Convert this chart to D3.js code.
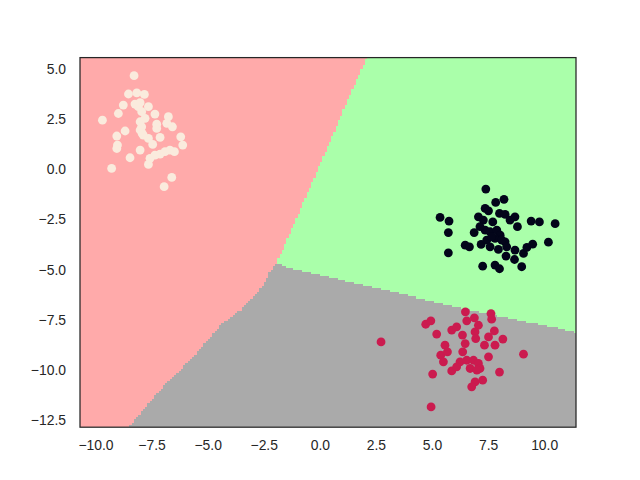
<!DOCTYPE html>
<html><head><meta charset="utf-8">
<script src="https://cdn.jsdelivr.net/npm/d3@7"></script>
<style>body{margin:0;background:#fff} svg{display:block}</style>
</head><body>
<svg id="chart" width="640" height="480"></svg>
<script>
// ---- data ----
const regionColors = ["#FFAAAA", "#AAFFAA", "#AAAAAA"];
const pointColors = ["#FAEBDD", "#03051A", "#CB1B4F"];
const xTicks = [-10, -7.5, -5, -2.5, 0, 2.5, 5, 7.5, 10];
const yTicks = [5, 2.5, 0, -2.5, -5, -7.5, -10, -12.5];

const cluster0 = [[-8.28,4.62],[-8.53,3.71],[-8.16,3.77],[-7.82,3.69],[-8.76,3.16],[-8.24,3.21],[-8.01,3.28],[-7.64,3.08],[-8.98,2.74],[-7.94,2.83],[-7.35,2.71],[-9.69,2.41],[-8.01,2.33],[-7.79,2.50],[-7.27,2.21],[-6.75,2.58],[-6.82,2.25],[-6.57,2.08],[-8.68,1.87],[-8.01,1.92],[-7.87,1.67],[-7.27,2.00],[-7.12,1.55],[-9.05,1.62],[-9.02,1.17],[-9.05,1.00],[-7.64,1.50],[-7.45,1.20],[-6.20,1.58],[-6.11,1.17],[-8.01,0.92],[-8.46,0.54],[-7.57,0.51],[-7.64,0.21],[-7.35,0.67],[-7.12,0.72],[-6.90,0.84],[-6.68,0.92],[-6.48,0.84],[-9.28,0.01],[-6.60,-0.44],[-6.94,-0.90],[-7.94,2.08],[-8.09,3.08],[-7.92,1.75]];
const cluster1 = [[7.40,-1.02],[7.84,-1.68],[8.21,-1.53],[7.37,-1.98],[7.52,-2.10],[7.07,-2.40],[8.01,-2.23],[8.26,-2.28],[8.70,-2.40],[8.48,-2.56],[5.36,-2.43],[5.76,-2.61],[5.73,-3.18],[6.88,-3.18],[7.29,-2.56],[7.71,-2.65],[7.37,-3.06],[7.59,-3.14],[7.89,-3.06],[8.04,-3.31],[8.81,-2.89],[9.42,-2.61],[9.79,-2.65],[10.49,-2.74],[6.48,-3.81],[6.67,-3.89],[7.19,-3.77],[7.44,-3.56],[7.81,-3.47],[8.26,-3.64],[8.33,-3.89],[7.96,-4.02],[8.70,-4.05],[8.30,-4.35],[9.08,-4.22],[9.23,-3.92],[9.49,-3.76],[10.19,-3.66],[5.73,-4.19],[8.68,-4.52],[7.26,-4.85],[7.81,-4.80],[8.01,-4.98],[9.00,-4.88],[7.14,-2.89],[7.66,-3.39],[8.11,-3.56],[7.59,-3.89]];
const cluster2 = [[2.73,-8.62],[4.72,-7.74],[4.95,-7.57],[5.21,-8.23],[6.49,-7.12],[6.55,-7.57],[6.89,-7.42],[7.07,-7.79],[7.63,-7.21],[7.66,-7.49],[5.88,-8.03],[6.10,-7.87],[6.36,-8.28],[6.92,-8.12],[6.95,-8.45],[7.52,-8.37],[7.78,-8.07],[8.16,-8.48],[5.58,-8.78],[6.48,-8.70],[7.34,-8.78],[7.81,-8.78],[5.39,-9.28],[5.51,-9.61],[6.37,-9.11],[6.25,-9.61],[6.55,-9.53],[6.85,-9.53],[7.07,-9.69],[7.52,-9.36],[7.14,-9.94],[6.70,-9.94],[5.88,-10.06],[9.08,-9.23],[5.03,-10.22],[8.01,-10.12],[6.92,-10.61],[7.26,-10.52],[6.77,-10.85],[4.96,-11.85],[6.10,-9.86],[7.00,-10.02],[5.69,-9.11]];

// decision boundaries (data units)
const boundaryRedGreen = [[2.09,5.52],[0.28,0.92],[-1.65,-4.05],[-1.93,-4.72]];
const boundaryRedGray = [[-1.93,-4.72],[-2.25,-5.21],[-2.44,-5.71],[-2.81,-6.21],[-3.26,-6.70],[-3.56,-7.04],[-4.37,-7.70],[-5.64,-9.36],[-7.12,-11.01],[-7.87,-12.01],[-8.53,-12.86]];
const boundaryGreenGray = [[-1.93,-4.72],[-1.42,-4.95],[-0.58,-5.17],[0.01,-5.30],[1.50,-5.71],[4.47,-6.45],[7.44,-7.20],[10.41,-7.87],[11.43,-8.13]];

const xDomain = [-10.69, 11.42];
const yDomain = [-12.86, 5.52];
const meshStep = 0.1;

// ---- layout ----
const W = 640, H = 480;
const margin = {left: 80, right: 64, top: 57.6, bottom: 52.8};
const svg = d3.select("#chart");
const x = d3.scaleLinear().domain(xDomain).range([margin.left, W - margin.right]);
const y = d3.scaleLinear().domain(yDomain).range([H - margin.bottom, margin.top]);

svg.append("defs").append("clipPath").attr("id", "clip")
  .append("rect").attr("x", margin.left).attr("y", margin.top)
  .attr("width", W - margin.left - margin.right).attr("height", H - margin.top - margin.bottom);

// classifier from boundaries
const J = boundaryRedGreen[boundaryRedGreen.length - 1];
const xRG = d3.scaleLinear().domain(boundaryRedGreen.map(d => d[1])).range(boundaryRedGreen.map(d => d[0]));
const xRGr = d3.scaleLinear().domain(boundaryRedGray.map(d => d[1])).range(boundaryRedGray.map(d => d[0]));
const yGG = d3.scaleLinear().domain(boundaryGreenGray.map(d => d[0])).range(boundaryGreenGray.map(d => d[1]));
function classify(px, py) {
  if (py >= J[1]) return px < xRG(py) ? 0 : 1;
  if (px < xRGr(py)) return 0;
  if (px >= J[0] && py > yGG(px)) return 1;
  return 2;
}

// mesh (runs per row)
const runs = [];
const nx = Math.ceil((xDomain[1] - xDomain[0]) / meshStep);
const ny = Math.ceil((yDomain[1] - yDomain[0]) / meshStep);
for (let j = 0; j < ny; j++) {
  const y0 = yDomain[0] + j * meshStep;
  let start = 0, cls = classify(xDomain[0] + 0.5 * meshStep, y0 + 0.5 * meshStep);
  for (let i = 1; i <= nx; i++) {
    const c = i < nx ? classify(xDomain[0] + (i + 0.5) * meshStep, y0 + 0.5 * meshStep) : -1;
    if (c !== cls) {
      runs.push({x0: xDomain[0] + start * meshStep, x1: xDomain[0] + i * meshStep, y0: y0, y1: y0 + meshStep, c: cls});
      start = i; cls = c;
    }
  }
}
const mesh = svg.append("g").attr("clip-path", "url(#clip)").attr("shape-rendering", "crispEdges");
mesh.selectAll("rect").data(runs).join("rect")
  .attr("x", d => x(d.x0))
  .attr("width", d => x(d.x1) - x(d.x0))
  .attr("y", d => y(d.y1))
  .attr("height", d => y(d.y0) - y(d.y1))
  .attr("fill", d => regionColors[d.c]);

// points
const pts = [];
[cluster0, cluster1, cluster2].forEach((cl, k) => cl.forEach(p => pts.push({x: p[0], y: p[1], c: k})));
svg.append("g").attr("clip-path", "url(#clip)").selectAll("circle").data(pts).join("circle")
  .attr("cx", d => x(d.x)).attr("cy", d => y(d.y)).attr("r", 4.4)
  .attr("fill", d => pointColors[d.c]);

// axes
const fmt = d3.format(".1f");
const xAxis = svg.append("g").attr("transform", `translate(0,${H - margin.bottom})`)
  .call(d3.axisBottom(x).tickValues(xTicks).tickFormat(fmt).tickSize(0).tickPadding(13));
const yAxis = svg.append("g").attr("transform", `translate(${margin.left},0)`)
  .call(d3.axisLeft(y).tickValues(yTicks).tickFormat(fmt).tickSize(0).tickPadding(14));
[xAxis, yAxis].forEach(g => {
  g.select(".domain").remove();
  g.selectAll("text").attr("fill", "#262626")
    .style("font-family", "'Liberation Sans', Arial, sans-serif").style("font-size", "13.9px");
});
yAxis.selectAll("text").attr("dy", "0.36em");

// spines
svg.append("rect").attr("x", margin.left).attr("y", margin.top)
  .attr("width", W - margin.left - margin.right).attr("height", H - margin.top - margin.bottom)
  .attr("fill", "none").attr("stroke", "#262626").attr("stroke-width", 1.25);
</script>
</body></html>
